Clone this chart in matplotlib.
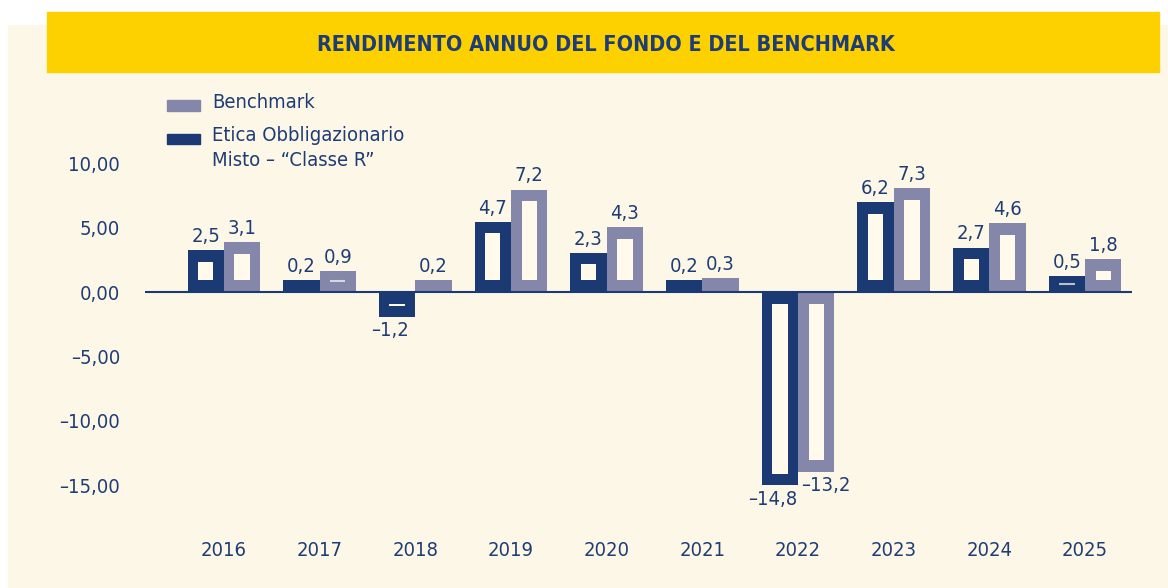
import numpy as np
import matplotlib.pyplot as plt
from matplotlib.patches import Rectangle

# dati
years = ["2016", "2017", "2018", "2019", "2020", "2021", "2022", "2023", "2024", "2025"]
fondo = [2.5, 0.2, -1.2, 4.7, 2.3, 0.2, -14.8, 6.2, 2.7, 0.5]
benchmark = [3.1, 0.9, 0.2, 7.2, 4.3, 0.3, -13.2, 7.3, 4.6, 1.8]
yticks = [10, 5, 0, -5, -10, -15]
legend_labels = ["Benchmark", "Etica Obbligazionario\nMisto – \u201cClasse R\u201d"]
title = "RENDIMENTO ANNUO DEL FONDO E DEL BENCHMARK"

W, H = 1168, 588
NAVY = "#1b3a73"
GREY = "#8486aa"
TEXT = "#1f3d75"
CREAM = "#fdf7e7"
HOLE = "#fffaec"
YELLOW = "#fdd000"

plt.rcParams["font.family"] = ["DejaVu Sans"]
plt.rcParams["font.stretch"] = "condensed"

YMIN, YMAX = -15.0, 12.0
PAD = 0.75     # spessore bordo oltre il valore
INSET_Y = 0.9  # bordo interno verticale
INSET_X = 0.11
BW = 0.38
FS = 14.5


def fmt(v, dec=1):
    s = f"{abs(v):.{dec}f}".replace(".", ",")
    return ("–" + s) if v < 0 else s


def px(x, y):
    return x / W, 1 - y / H


def draw_series(ax, x, vals, color, neg_shift):
    vals = np.array(vals)
    sign = np.where(vals < 0, -1.0, 1.0)
    outer = np.maximum(vals + sign * PAD, YMIN)
    bars = ax.bar(x, outer, width=BW, color=color, linewidth=0, zorder=2)
    lo = sign * INSET_Y
    hi = outer - sign * INSET_Y
    hole_h = hi - lo
    hw = BW - 2 * INSET_X
    for xi, v, b, h, o in zip(x, vals, lo, hole_h, outer):
        if h * np.sign(v if v != 0 else 1) > 0:
            ax.bar(xi, h, bottom=b, width=hw, color=HOLE, linewidth=0, zorder=3)
        elif abs(v) >= 0.5:
            ax.hlines(o / 2, xi - hw / 2, xi + hw / 2,
                      color=HOLE, linewidth=1.5, alpha=0.7, zorder=3)
    anns = ax.bar_label(bars, labels=[fmt(v) for v in vals], padding=3,
                        fontsize=FS, color=TEXT)
    for a, v in zip(anns, vals):
        if v < 0:
            dx, dy = a.xyann
            a.xyann = (dx + neg_shift, dy)
    return bars


fig = plt.figure(figsize=(W / 100, H / 100), dpi=100)
fig.patch.set_facecolor("white")

# sfondo crema e banda gialla del titolo
fig.patches.append(Rectangle(px(8, 588), (W - 8) / W, (588 - 25) / H,
                             transform=fig.transFigure, color=CREAM, zorder=-3))
fig.patches.append(Rectangle(px(47, 72), (1159 - 47) / W, 60 / H,
                             transform=fig.transFigure, color=YELLOW, zorder=-2))
fig.text(*px(606, 45), title, ha="center", va="center", fontsize=15.5,
         fontweight="bold", color=TEXT)

# legenda manuale
for i, (lab, col) in enumerate(zip(legend_labels, [GREY, NAVY])):
    y0 = 100 + 33.5 * i
    fig.patches.append(Rectangle(px(167, y0 + 10.5), 33 / W, 10.5 / H,
                                 transform=fig.transFigure, color=col, zorder=2))
    fig.text(*px(212, y0 - 7), lab, ha="left", va="top", fontsize=FS,
             color=TEXT, linespacing=1.4)

ax_left, ax_right = 145, 1132
ax_top = 292 - YMAX * 12.89
ax_bot = 292 - YMIN * 12.89
ax = fig.add_axes([ax_left / W, 1 - ax_bot / H, (ax_right - ax_left) / W,
                   (ax_bot - ax_top) / H])
ax.set_facecolor("none")

x = np.arange(len(years))
draw_series(ax, x - BW / 2, fondo, NAVY, -5)
draw_series(ax, x + BW / 2, benchmark, GREY, 7)

ax.axhline(0, color=NAVY, linewidth=1.5, zorder=4)

ax.set_xlim(-0.825, 9.49)
ax.set_ylim(YMIN, YMAX)
ax.set_yticks(yticks, [fmt(t, 2) for t in yticks])
ax.set_xticks(x, years)
ax.tick_params(axis="y", length=0, pad=18, labelsize=FS, labelcolor=TEXT)
ax.tick_params(axis="x", length=0, pad=40, labelsize=FS, labelcolor=TEXT)
for s in ax.spines.values():
    s.set_visible(False)

fig.savefig("out.png", dpi=100)
